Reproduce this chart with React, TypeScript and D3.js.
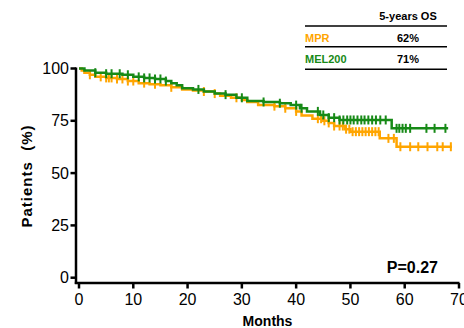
import React from "react";
import * as d3 from "d3";

// MPR (orange) Kaplan-Meier steps [month, survival %]
const mprTimes = [0, 0.5, 1, 2, 3, 5, 7, 9, 11, 13, 15, 17, 19, 21, 23, 25, 26, 28, 30, 31, 33, 36, 38, 40, 41, 43, 45, 46, 47, 49, 50, 55.4, 58.5, 68.7];
const mprSurv = [100, 99, 98, 97, 96, 95.5, 95, 94, 93, 92.5, 92, 91, 90, 89.5, 89, 88, 87, 86, 85, 84, 82.5, 82, 81, 79.5, 77.5, 76, 75, 74, 72.5, 71, 69.8, 66.6, 62.6, 62.6];
const mprCensor = [2, 4, 5, 5.5, 6, 7, 8, 9, 10, 12, 14, 17, 23, 25, 29, 36, 38, 40, 44, 44.6, 45.2, 46, 47, 48, 48.6, 49.2, 49.8, 50.4, 51, 51.6, 52.2, 52.8, 53.4, 54, 54.6, 55.2, 57, 58, 59.2, 61, 62.5, 64.2, 66, 67, 68.5];

// MEL200 (green)
const melTimes = [0, 1, 3, 5, 8, 10, 12, 14, 16, 17, 18, 19, 21, 23, 25, 27, 29, 31, 34, 37, 39, 40.7, 42, 44.4, 46, 48, 57.6, 68];
const melSurv = [100, 99, 98, 97.5, 97, 96, 95.5, 95, 94, 93, 92, 90.5, 90, 89, 88, 87.5, 86, 84.5, 84, 83.4, 82.5, 81, 79.5, 77.8, 76.5, 75.4, 71.4, 71.4];
const melCensor = [3, 5, 6, 7.5, 9, 11, 12, 13, 14, 15, 16, 22, 27, 30, 34, 37, 40, 41, 44, 45, 46, 47, 48, 48.7, 49.4, 50, 50.6, 51.3, 52, 52.6, 53.3, 54, 54.7, 55.5, 56.5, 58.5, 59, 59.6, 60.2, 61, 64, 65.5, 67.5];

const xTicks = [0, 10, 20, 30, 40, 50, 60, 70];
const yTicks = [0, 25, 50, 75, 100];

const tableHeader = "5-years OS";
const tableRows = [
  { name: "MPR", value: "62%", color: "#FFA500" },
  { name: "MEL200", value: "71%", color: "#178A17" },
];
const pValue = "P=0.27";

const ORANGE = "#FFA500";
const GREEN = "#178A17";

function survAt(times: number[], surv: number[], t: number) {
  let s = surv[0];
  for (let i = 0; i < times.length; i++) {
    if (times[i] <= t) s = surv[i];
  }
  return s;
}

export default function App() {
  const x = d3.scaleLinear().domain([0, 70]).range([79, 459]);
  const y = d3.scaleLinear().domain([0, 100]).range([277.7, 68.5]);
  const line = d3
    .line<[number, number]>()
    .x((d) => x(d[0]))
    .y((d) => y(d[1]))
    .curve(d3.curveStepAfter);

  const series = [
    { times: mprTimes, surv: mprSurv, censor: mprCensor, color: ORANGE },
    { times: melTimes, surv: melSurv, censor: melCensor, color: GREEN },
  ];

  const font = "'Liberation Sans Narrow', 'Liberation Sans', Arial, sans-serif";
  const fontR = "'Liberation Sans', Arial, sans-serif";

  return (
    <svg width={464} height={328} style={{ position: "absolute", left: 0, top: 0 }}>
      <rect width={464} height={328} fill="#fff" />
      {series.map((s, si) => (
        <g key={si}>
          <path
            d={line(s.times.map((t, i) => [t, s.surv[i]] as [number, number])) || ""}
            fill="none"
            stroke={s.color}
            strokeWidth={2.5}
          />
          {s.censor.map((c, i) => {
            const v = survAt(s.times, s.surv, c);
            return (
              <line key={i} x1={x(c)} x2={x(c)} y1={y(v) - 4.5} y2={y(v) + 4.5} stroke={s.color} strokeWidth={2} />
            );
          })}
        </g>
      ))}
      {/* axes */}
      <line x1={76} x2={76} y1={67.5} y2={284} stroke="#000" strokeWidth={2.5} />
      <line x1={74.8} x2={459.5} y1={283} y2={283} stroke="#000" strokeWidth={2.5} />
      {yTicks.map((t) => (
        <g key={t}>
          <line x1={70.5} x2={76} y1={y(t)} y2={y(t)} stroke="#000" strokeWidth={2.5} />
          <text x={69} y={y(t) + 5.5} textAnchor="end" fontFamily={font} fontSize={16}>
            {t}
          </text>
        </g>
      ))}
      {xTicks.map((t) => (
        <g key={t}>
          <line x1={x(t)} x2={x(t)} y1={283} y2={288.5} stroke="#000" strokeWidth={2.5} />
          <text x={x(t)} y={305} textAnchor="middle" fontFamily={font} fontSize={16}>
            {t}
          </text>
        </g>
      ))}
      <text x={267.5} y={326} textAnchor="middle" fontFamily={fontR} fontWeight="bold" fontSize={14}>
        Months
      </text>
      <text
        transform="translate(32,176) rotate(-90)"
        textAnchor="middle"
        fontFamily={fontR}
        fontWeight="bold"
        fontSize={15}
        letterSpacing={1}
        style={{ whiteSpace: "pre" }}
      >
        {"Patients  (%)"}
      </text>
      <text x={438} y={273} textAnchor="end" fontFamily={font} fontWeight="bold" fontSize={16}>
        {pValue}
      </text>
      {/* table */}
      <text x={408} y={20} textAnchor="middle" fontFamily={fontR} fontWeight="bold" fontSize={11}>
        {tableHeader}
      </text>
      {[26, 46.7, 69.3].map((yy, i) => (
        <line key={i} x1={305} x2={447} y1={yy} y2={yy} stroke="#000" strokeWidth={1.6} />
      ))}
      {tableRows.map((r, i) => (
        <g key={r.name}>
          <text x={305} y={41.7 + i * 21.6} fontFamily={fontR} fontWeight="bold" fontSize={11} fill={r.color}>
            {r.name}
          </text>
          <text x={408} y={41.7 + i * 21.6} textAnchor="middle" fontFamily={fontR} fontWeight="bold" fontSize={11}>
            {r.value}
          </text>
        </g>
      ))}
    </svg>
  );
}
